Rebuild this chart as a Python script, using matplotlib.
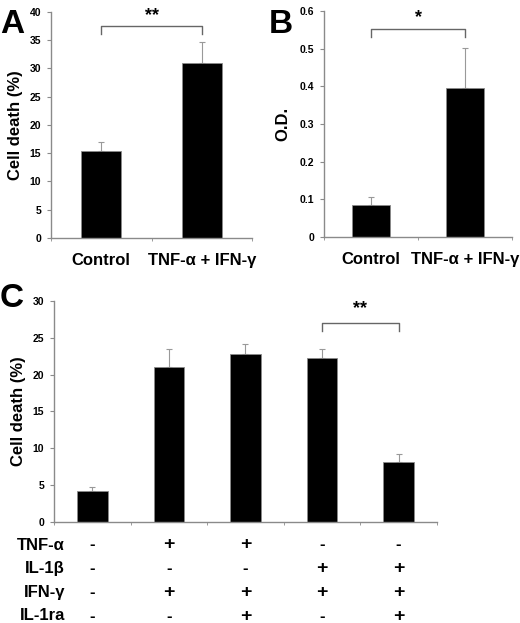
import matplotlib
matplotlib.use("Agg")
import matplotlib.pyplot as plt
import numpy as np

plt.rcParams["font.family"] = ["Liberation Sans", "DejaVu Sans"]
plt.rcParams["font.weight"] = "bold"

# panel A
a_cats = ["Control", "TNF-\u03b1 + IFN-\u03b3"]
a_vals = [15.3, 31.0]
a_err = [1.6, 3.7]
# panel B
b_cats = ["Control", "TNF-\u03b1 + IFN-\u03b3"]
b_vals = [0.085, 0.395]
b_err = [0.02, 0.107]
# panel C
c_vals = [4.2, 21.0, 22.8, 22.3, 8.1]
c_err = [0.6, 2.5, 1.4, 1.2, 1.1]
row_names = ["TNF-\u03b1", "IL-1\u03b2", "IFN-\u03b3", "IL-1ra"]
row_signs = [["-", "+", "+", "-", "-"],
             ["-", "-", "-", "+", "+"],
             ["-", "+", "+", "+", "+"],
             ["-", "-", "+", "-", "+"]]

grey = "#8a8a8a"
fig = plt.figure(figsize=(5.2, 6.23), dpi=100)


def style(ax, n, ymax, ystep):
    for s in ["top", "right"]:
        ax.spines[s].set_visible(False)
    for s in ["left", "bottom"]:
        ax.spines[s].set_color(grey)
        ax.spines[s].set_linewidth(1.0)
    ax.set_xlim(-0.5, n - 0.5)
    ax.set_ylim(0, ymax)
    ax.set_yticks(np.arange(0, ymax + ystep / 2, ystep))
    ax.tick_params(axis="y", direction="out", length=3, color=grey, labelsize=7.5, pad=4)
    ax.set_xticks(np.arange(n + 1) - 0.5, minor=True)
    ax.tick_params(axis="x", which="minor", direction="out", length=2, color=grey)
    ax.tick_params(axis="x", which="major", length=0, labelsize=12, pad=11)
    for t in ax.get_yticklabels():
        t.set_fontweight("bold")


def bars(ax, vals, err):
    x = np.arange(len(vals))
    ax.bar(x, vals, width=0.4, color="black", edgecolor=grey, linewidth=0.6, zorder=2)
    ax.errorbar(x, vals, yerr=[np.zeros(len(vals)), err], fmt="none",
                ecolor="#999999", elinewidth=0.8, capsize=2, capthick=0.8, zorder=1)


def bracket(ax, x0, x1, y, drop, text, ty):
    ax.plot([x0, x0, x1, x1], [y - drop, y, y, y - drop], color="#666666", lw=1.0, clip_on=False)
    ax.text((x0 + x1) / 2, ty, text, ha="center", va="center", fontsize=13, fontweight="bold")


# A
axA = fig.add_axes([0.098, 0.618, 0.387, 0.363])
bars(axA, a_vals, a_err)
style(axA, 2, 40, 5)
axA.set_xticks(range(2))
axA.set_xticklabels(a_cats, fontweight="bold")
axA.set_ylabel("Cell death (%)", fontsize=12, fontweight="bold", labelpad=5)
bracket(axA, 0, 1, 37.5, 1.5, "**", 39.4)
fig.text(0.0, 0.985, "A", fontsize=24, fontweight="bold", va="top", ha="left")

# B
axB = fig.add_axes([0.623, 0.620, 0.362, 0.362])
bars(axB, b_vals, b_err)
style(axB, 2, 0.6, 0.1)
axB.set_yticklabels(["0"] + ["%.1f" % v for v in np.arange(0.1, 0.65, 0.1)])
axB.set_xticks(range(2))
axB.set_xticklabels(b_cats, fontweight="bold")
axB.set_ylabel("O.D.", fontsize=12, fontweight="bold", labelpad=7)
bracket(axB, 0, 1, 0.553, 0.022, "*", 0.583)
fig.text(0.517, 0.985, "B", fontsize=24, fontweight="bold", va="top", ha="left")

# C
axC = fig.add_axes([0.104, 0.162, 0.736, 0.355])
bars(axC, c_vals, c_err)
style(axC, 5, 30, 5)
axC.set_xticks(range(5))
axC.set_xticklabels([])
axC.set_ylabel("Cell death (%)", fontsize=12, fontweight="bold", labelpad=5)
bracket(axC, 3, 4, 27.0, 1.1, "**", 29.0)
fig.text(0.0, 0.545, "C", fontsize=24, fontweight="bold", va="top", ha="left")

row_y = [545, 568, 593, 616]
for name, signs, py in zip(row_names, row_signs, row_y):
    yf = 1 - py / 623
    fig.text(65 / 520, yf, name, ha="right", va="center", fontsize=12, fontweight="bold")
    for i, s in enumerate(signs):
        xd = axC.transData.transform((i, 0))[0]
        xf = fig.transFigure.inverted().transform((xd, 0))[0]
        fig.text(xf, yf, s, ha="center", va="center", fontsize=14 if s == "+" else 12,
                 fontweight="bold")

fig.savefig("out.png", dpi=100)
